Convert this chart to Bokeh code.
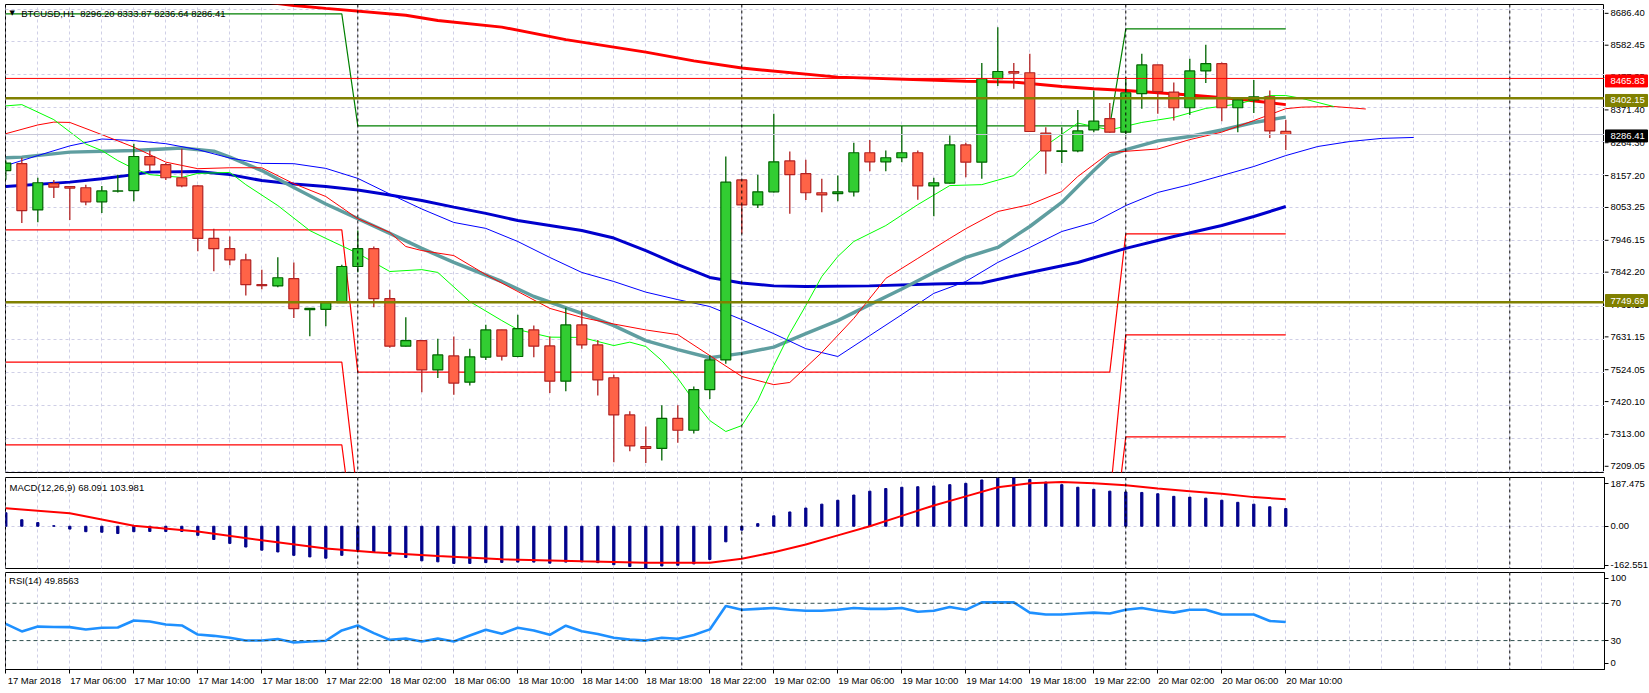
from bokeh.plotting import figure
from bokeh.models import (Range1d, FixedTicker, CustomJSTickFormatter,
                          Span, Label, LinearAxis, ColumnDataSource)
from bokeh.layouts import column, row
from bokeh.embed import file_html
from bokeh.resources import INLINE
from bokeh.core.properties import value

FONT = "Liberation Sans"
FS = "9.5px"
GRID = "#CFCFE6"

# ---------------- data ----------------
symbol_title = "BTCUSD,H1\u00a0\u00a08296.20 8333.87 8236.64 8286.41"
macd_title = "MACD(12,26,9) 68.091 103.981"
rsi_title = "RSI(14) 49.8563"

opens = [8171, 8193, 8045, 8129, 8120, 8116, 8071, 8105, 8107, 8216,
         8190, 8148, 8122, 7954, 7921, 7885, 7806, 7802, 7825, 7726,
         7727, 7748, 7864, 7921, 7761, 7609, 7627, 7533, 7578, 7494,
         7574, 7661, 7576, 7661, 7610, 7497, 7677, 7613, 7508, 7389,
         7288, 7282, 7378, 7340, 7470, 7565, 8141, 8061, 8103, 8202,
         8161, 8100, 8097, 8103, 8228, 8199, 8212, 8228, 8122, 8131,
         8253, 8198, 8465, 8488, 8484, 8291, 8232, 8234, 8301, 8337,
         8294, 8417, 8509, 8422, 8372, 8490, 8513, 8372, 8397, 8407, 8296.20]
highs = [8203, 8212, 8148, 8141, 8122, 8126, 8122, 8158, 8257, 8235,
         8195, 8241, 8124, 7985, 7960, 7905, 7854, 7894, 7877, 7731,
         7753, 7870, 7979, 7928, 7790, 7702, 7629, 7633, 7640, 7601,
         7678, 7662, 7710, 7675, 7640, 7732, 7726, 7629, 7518, 7401,
         7352, 7420, 7420, 7480, 7580, 8216, 8142, 8158, 8353, 8232,
         8206, 8145, 8155, 8260, 8269, 8235, 8314, 8235, 8148, 8283,
         8260, 8515, 8630, 8515, 8545, 8310, 8310, 8365, 8427, 8387,
         8470, 8545, 8510, 8453, 8529, 8574, 8517, 8406, 8461, 8427, 8333.87]
lows = [8142, 8003, 8006, 8083, 8013, 8060, 8035, 8101, 8073, 8169,
        8141, 8118, 7913, 7849, 7868, 7771, 7791, 7798, 7699, 7641,
        7673, 7747, 7846, 7734, 7604, 7608, 7462, 7507, 7454, 7483,
        7565, 7563, 7574, 7574, 7459, 7465, 7601, 7451, 7238, 7273,
        7235, 7243, 7300, 7330, 7440, 7553, 7969, 8051, 8101, 8033,
        8077, 8038, 8073, 8088, 8169, 8169, 8198, 8078, 8025, 8130,
        8150, 8145, 8442, 8433, 8295, 8161, 8195, 8230, 8294, 8292,
        8283, 8369, 8353, 8331, 8349, 8451, 8329, 8294, 8355, 8275, 8236.64]
closes = [8195, 8043, 8132, 8118, 8115, 8071, 8106, 8106, 8216, 8189,
          8148, 8122, 7954, 7921, 7885, 7806, 7803, 7828, 7729, 7730,
          7748, 7864, 7921, 7761, 7609, 7627, 7533, 7581, 7491, 7575,
          7661, 7577, 7665, 7609, 7497, 7677, 7613, 7501, 7389, 7290,
          7282, 7378, 7340, 7470, 7565, 8134, 8061, 8103, 8199, 8158,
          8100, 8093, 8103, 8228, 8199, 8212, 8228, 8122, 8132, 8253,
          8198, 8465, 8488, 8483, 8296, 8234, 8234.2, 8298, 8329, 8294,
          8420, 8509, 8424, 8372, 8490, 8513, 8372, 8397, 8407, 8298, 8286.41]

# moving averages (bar index, price)
ma_red_bars = [0, 10, 16, 18, 20, 25, 27, 31, 35, 40, 43, 46, 52, 60, 63, 66, 68, 70, 74, 77, 80]
ma_red_vals = [8765, 8735, 8712, 8699, 8690, 8668, 8651, 8630, 8590, 8550, 8522, 8499, 8470,
               8457, 8454, 8440, 8433, 8427, 8413, 8400, 8382]
ma_blue_bars = [0, 4, 6, 8, 9, 12, 14, 16, 18, 20, 22, 24, 26, 28, 30, 32, 34, 36, 38, 40,
                42, 44, 46, 48, 50, 54, 58, 61, 64, 67, 70, 73, 76, 78, 80]
ma_blue_vals = [8120, 8134, 8145, 8158, 8166, 8168, 8158, 8139, 8128, 8120, 8109, 8093, 8075,
                8054, 8034, 8011, 7995, 7979, 7955, 7915, 7870, 7829, 7811, 7802, 7800, 7802,
                7808, 7811, 7845, 7877, 7922, 7960, 7995, 8024, 8056]
ma_grey_bars = [0, 1, 4, 8, 11, 13, 14, 16, 18, 20, 22, 24, 26, 28, 31, 33, 36, 38, 40, 42,
                44, 46, 48, 50, 52, 54, 56, 58, 60, 62, 64, 66, 68, 69, 70, 72, 74, 76, 78, 80]
ma_grey_vals = [8212, 8214, 8230, 8235, 8243, 8233, 8214, 8171, 8117, 8064, 8017, 7970, 7922,
                7877, 7816, 7768, 7714, 7675, 7627, 7598, 7572, 7586, 7606, 7649, 7691, 7742,
                7792, 7845, 7893, 7925, 7992, 8069, 8171, 8219, 8238, 8266, 8280, 8301, 8325, 8342]
jaw_bars = [0, 2, 4, 6, 8, 10, 12, 14, 16, 18, 20, 22, 24, 26, 28, 30, 32, 34, 36, 38, 40,
            42, 44, 46, 48, 50, 52, 54, 56, 58, 60, 62, 64, 66, 68, 70, 72, 74, 76, 78, 80,
            82, 84, 86, 88]
jaw_vals = [8187, 8219, 8250, 8272, 8267, 8257, 8238, 8211, 8194, 8193, 8178, 8146, 8096,
            8048, 8005, 7986, 7944, 7893, 7845, 7816, 7782, 7758, 7736, 7694, 7649, 7601,
            7576, 7643, 7710, 7778, 7816, 7877, 7925, 7976, 8005, 8059, 8101, 8126, 8155,
            8184, 8219, 8248, 8264, 8274, 8277]
teeth_bars = [0, 2, 3, 4, 6, 8, 10, 12, 14, 16, 18, 20, 22, 24, 25, 26, 28, 30, 32, 34, 36,
              38, 40, 42, 44, 46, 48, 49, 51, 53, 55, 57, 59, 60, 62, 64, 66, 67, 69, 72, 74,
              76, 78, 80, 81, 83, 85]
teeth_vals = [8289, 8317, 8326, 8325, 8286, 8246, 8198, 8177, 8180, 8180, 8129, 8088, 8017,
              7973, 7928, 7915, 7899, 7838, 7784, 7730, 7701, 7680, 7661, 7646, 7579, 7512,
              7486, 7493, 7589, 7698, 7826, 7890, 7954, 7985, 8040, 8062, 8104, 8152, 8229,
              8240, 8270, 8294, 8331, 8369, 8374, 8376, 8368]
lips_bars = [0, 1, 3, 5, 6, 7, 8, 9, 11, 12, 14, 15, 17, 19, 20, 22, 24, 26, 27, 29, 31, 32,
             34, 36, 38, 39, 40, 41, 42, 43, 44, 45, 46, 47, 48, 49, 50, 51, 52, 53, 55, 57,
             59, 61, 63, 65, 67, 69, 71, 73, 75, 77, 79, 80, 81, 83]
lips_vals = [8378, 8382, 8334, 8256, 8235, 8203, 8177, 8158, 8149, 8162, 8165, 8126, 8059,
             7979, 7954, 7906, 7848, 7854, 7845, 7752, 7691, 7662, 7638, 7637, 7611, 7622,
             7608, 7563, 7506, 7435, 7371, 7336, 7355, 7435, 7547, 7650, 7739, 7832, 7896,
             7944, 7995, 8062, 8123, 8126, 8155, 8251, 8323, 8301, 8325, 8341, 8370, 8384,
             8411, 8411, 8402, 8376]

# daily step levels: first bar of each segment, then levels
step_start_bars = [0, 22, 70]
step_end_bar = 80
prev_high_levels = [8672.6, 8314.2, 8624.6]
pivot_s1_levels = [7981.4, 7525.8, 7968.6]
pivot_s2_levels = [7557.8, 7120.0, 7645.1]
pivot_s3_levels = [7293.4, 6900.0, 7318.7]

hline_red = 8465.83
hline_olive_hi = 8402.15
hline_olive_lo = 7749.69
bid_price = 8286.41

macd_hist = [52, 25, 14, 2, -11, -21, -23, -28, -21, -20, -20, -20, -35, -51, -66, -80, -92,
             -99, -112, -118, -123, -112, -95, -101, -114, -120, -133, -137, -143, -143, -140,
             -139, -138, -138, -142, -138, -137, -140, -148, -155, -162.551, -153, -150, -145,
             -128, -60, -15, 10, 40, 55, 70, 85, 100, 120, 135, 145, 150, 152, 155, 160, 165,
             178, 185, 187.475, 180, 170, 160, 150, 142, 135, 132, 130, 125, 115, 112, 108,
             100, 92, 85, 75, 68.091]
signal_bars = [0, 4, 8, 12, 16, 20, 23, 27, 31, 36, 40, 44, 46, 48, 50, 52, 54, 56, 58, 60,
               62, 64, 66, 68, 70, 72, 74, 76, 78, 80]
signal_vals = [69, 50, 2, -20, -54, -86, -100, -114, -127, -135, -140, -140, -125, -100, -70,
               -35, 0, 40, 80, 115, 150, 165, 170, 165, 158, 145, 135, 125, 112, 103.981]

rsi_vals = [48, 39.8, 45, 44.5, 44.4, 41.9, 43.7, 44, 51.6, 50.5, 47.3, 46.2, 36.5, 35.1, 33,
            30.1, 30.1, 31.6, 28, 29.1, 29.8, 40.9, 46.2, 38, 30.8, 32.2, 29.1, 32.2, 29.1,
            35.5, 41.6, 37.3, 43.7, 40.9, 36.2, 46, 40, 37, 33, 31, 30, 33, 32, 36, 42, 67,
            63, 64, 65, 63, 62, 62, 63, 65, 64, 64, 65, 61, 62, 66, 63, 71, 71, 71, 60, 58,
            58, 59, 60, 59, 63, 65, 62, 60, 63, 63, 58, 58, 58, 51, 49.8563]
rsi_levels = [70, 30]

price_ticks = [8686.40, 8582.45, 8477.35, 8371.40, 8264.30, 8157.20, 8053.25, 7946.15,
               7842.20, 7735.10, 7631.15, 7524.05, 7420.10, 7313.00, 7209.05]
price_tags = [hline_red, hline_olive_hi, bid_price, hline_olive_lo]
price_tag_colors = ["#FF0000", "#808000", "#000000", "#808000"]
macd_tick_labels = ["187.475", "0.00", "-162.551"]
rsi_tick_labels = ["100", "70", "30", "0"]

time_tick_bars = list(range(0, 81, 4))
time_labels = ["17 Mar 2018", "17 Mar 06:00", "17 Mar 10:00", "17 Mar 14:00", "17 Mar 18:00",
               "17 Mar 22:00", "18 Mar 02:00", "18 Mar 06:00", "18 Mar 10:00", "18 Mar 14:00",
               "18 Mar 18:00", "18 Mar 22:00", "19 Mar 02:00", "19 Mar 06:00", "19 Mar 10:00",
               "19 Mar 14:00", "19 Mar 18:00", "19 Mar 22:00", "20 Mar 02:00", "20 Mar 06:00",
               "20 Mar 10:00"]
day_sep_bars = [22, 46, 70, 94]

# ---------------- layout ----------------
n = len(opens)
bars = list(range(n))
xr = Range1d(-0.02, 99.92)
LABEL_SHIFT = 1.78
PX = 3.2  # price units per pixel in the main panel


def style_frame(p):
    p.outline_line_color = "black"
    p.outline_line_width = 1
    p.background_fill_color = "white"
    p.border_fill_color = "white"
    p.xgrid.ticker = FixedTicker(ticks=list(range(0, 100, 2)))
    p.xgrid.grid_line_color = GRID
    p.xgrid.grid_line_dash = "3 3"
    p.ygrid.grid_line_color = GRID
    p.ygrid.grid_line_dash = "3 3"
    for b in day_sep_bars:
        p.add_layout(Span(location=b, dimension="height", line_color="black",
                          line_dash="3 3", line_width=1))


def style_yaxis(ya):
    ya.major_tick_out = 4
    ya.major_tick_in = 0
    ya.minor_tick_out = 0
    ya.minor_tick_in = 0
    ya.axis_line_color = "black"
    ya.major_tick_line_color = "black"
    ya.major_label_text_font = FONT
    ya.major_label_text_font_size = FS
    ya.major_label_text_color = "black"
    ya.major_label_standoff = 2


def steps(levels):
    xs, ys = [], []
    ends = step_start_bars[1:] + [step_end_bar + 1]
    for s, e, lv in zip(step_start_bars, ends, levels):
        for b in range(s, e):
            xs.append(b)
            ys.append(lv)
    return xs, ys


# ---- main price panel (frame only; its price scale is drawn in p1a) ----
y_top, y_bot = 8702.4, 7204.8
p1 = figure(frame_width=1599, frame_height=468, x_range=xr, y_range=Range1d(y_bot, y_top),
            min_border_left=5, min_border_right=0, min_border_top=4, min_border_bottom=5,
            x_axis_location=None, y_axis_location=None,
            output_backend="svg", toolbar_location=None)
style_frame(p1)
p1.ygrid.ticker = FixedTicker(ticks=price_ticks)

p1.add_layout(Span(location=bid_price, dimension="width", line_color="#C8C8D8", line_width=1))
p1.add_layout(Span(location=hline_red, dimension="width", line_color="#FF0000", line_width=1))
p1.add_layout(Span(location=hline_olive_hi, dimension="width", line_color="#808000", line_width=2.5))
p1.add_layout(Span(location=hline_olive_lo, dimension="width", line_color="#808000", line_width=2.5))

for lv in (pivot_s1_levels, pivot_s2_levels, pivot_s3_levels):
    sx, sy = steps(lv)
    p1.line(sx, sy, line_color="#FF0000", line_width=1.2)
sx, sy = steps(prev_high_levels)
p1.line(sx, sy, line_color="#008000", line_width=1.2)

p1.line(ma_red_bars, ma_red_vals, line_color="#FF0000", line_width=3)
p1.line(ma_blue_bars, ma_blue_vals, line_color="#0000CD", line_width=3)
p1.line(ma_grey_bars, ma_grey_vals, line_color="#5F9EA0", line_width=3.5)
p1.line(jaw_bars, jaw_vals, line_color="#0000FF", line_width=1)
p1.line(teeth_bars, teeth_vals, line_color="#FF0000", line_width=1)
p1.line(lips_bars, lips_vals, line_color="#00FF00", line_width=1)

up = [c >= o for o, c in zip(opens, closes)]
src = ColumnDataSource(dict(
    x=bars, o=opens, h=highs, l=lows, c=closes,
    top=[max(o, c) for o, c in zip(opens, closes)],
    bot=[min(o, c) for o, c in zip(opens, closes)],
    wick=["#006400" if u else "#B22222" for u in up],
    fill=["#32CD32" if u else "#FF6347" for u in up],
))
p1.segment(x0="x", y0="l", x1="x", y1="h", line_color="wick", line_width=1.3, source=src)
p1.vbar(x="x", top="top", bottom="bot", width=0.62, fill_color="fill", line_color="wick",
        line_width=1.2, source=src)

p1.add_layout(Label(x=0.4, y=8674.0, text="\u25bc", text_font="DejaVu Sans",
                    text_font_size="7px", text_color="black", text_align="center",
                    text_baseline="middle"))
p1.add_layout(Label(x=0.96, y=8673.0, text=symbol_title, text_font=FONT,
                    text_font_size=FS, text_color="black", text_baseline="middle"))

# ---- price scale strip to the right of the main panel ----
strip_top = y_top + 4 * PX
strip_bot = strip_top - 477 * PX
p1a = figure(width=45, height=477, x_range=Range1d(0, 45),
             y_range=Range1d(strip_bot, strip_top),
             min_border=0, x_axis_location=None, y_axis_location=None,
             output_backend="svg", toolbar_location=None)
p1a.outline_line_color = None
p1a.background_fill_color = "white"
p1a.border_fill_color = "white"
p1a.xgrid.grid_line_color = None
p1a.ygrid.grid_line_color = None
p1a.segment(x0=0, x1=4, y0=price_ticks, y1=price_ticks, line_color="black", line_width=1)
p1a.text(x=6, y=price_ticks, text=[f"{t:.2f}" for t in price_ticks], text_font=value(FONT),
         text_font_size=FS, text_color="black", text_baseline="middle", text_align="left")
p1a.rect(x=22, y=price_tags, width=42, height=12, height_units="screen",
         fill_color=price_tag_colors, line_color=price_tag_colors)
p1a.text(x=6, y=price_tags, text=[f"{t:.2f}" for t in price_tags], text_font=value(FONT),
         text_font_size=FS, text_color="white", text_baseline="middle", text_align="left")

# ---- MACD panel ----
p2 = figure(frame_width=1599, frame_height=91, x_range=xr,
            y_range=Range1d(-162.551, 187.475),
            min_border_left=5, min_border_right=0, min_border_top=0, min_border_bottom=3,
            x_axis_location=None, y_axis_location="right",
            output_backend="svg", toolbar_location=None)
style_frame(p2)
style_yaxis(p2.yaxis[0])
p2.yaxis[0].ticker = FixedTicker(ticks=[164, 0, -151])
p2.yaxis[0].formatter = CustomJSTickFormatter(
    args=dict(labels=macd_tick_labels),
    code="if (tick > 1) { return labels[0]; } if (tick < -1) { return labels[2]; } return labels[1];")
p2.ygrid.ticker = FixedTicker(ticks=[0])
p2.vbar(x=bars, top=macd_hist, bottom=0, width=0.14, color="#00008B")
p2.line(signal_bars, signal_vals, line_color="#FF0000", line_width=2)
p2.add_layout(Label(x=0.23, y=150, text=macd_title, text_font=FONT, text_font_size=FS,
                    text_color="black", text_baseline="middle"))

# ---- RSI panel ----
p3 = figure(frame_width=1599, frame_height=97, x_range=xr, y_range=Range1d(-1, 103),
            min_border_left=5, min_border_right=0, min_border_top=1, min_border_bottom=24,
            x_axis_location="below", y_axis_location="right",
            output_backend="svg", toolbar_location=None)
style_frame(p3)
style_yaxis(p3.yaxis[0])
p3.yaxis[0].ticker = FixedTicker(ticks=[96.6, 70, 30, 5.5])
p3.yaxis[0].formatter = CustomJSTickFormatter(
    args=dict(labels=rsi_tick_labels),
    code="if (tick > 90) { return labels[0]; } if (tick > 50) { return labels[1]; } if (tick > 20) { return labels[2]; } return labels[3];")
p3.ygrid.grid_line_color = None
for lv in rsi_levels:
    p3.add_layout(Span(location=lv, dimension="width", line_color="#2F4F4F",
                       line_dash="4 3", line_width=1))
p3.line(bars, rsi_vals, line_color="#1E90FF", line_width=2.6)
p3.add_layout(Label(x=0.2, y=94, text=rsi_title, text_font=FONT, text_font_size=FS,
                    text_color="black", text_baseline="middle"))

xa = p3.xaxis[0]
xa.ticker = FixedTicker(ticks=time_tick_bars)
xa.formatter = CustomJSTickFormatter(code="return '';")
xa.major_tick_out = 4
xa.major_tick_in = 0
xa.minor_tick_out = 0
xa.minor_tick_in = 0
xa.major_label_text_font_size = "0px"
xa.major_label_standoff = 0
xa.axis_line_color = "black"

xb = LinearAxis(
    ticker=FixedTicker(ticks=[b + LABEL_SHIFT for b in time_tick_bars]),
    formatter=CustomJSTickFormatter(
        args=dict(labels=time_labels, shift=LABEL_SHIFT),
        code="const i = Math.round((tick - shift) / 4); return (i >= 0 && i < labels.length) ? labels[i] : '';"),
    major_tick_out=0, major_tick_in=0, minor_tick_out=0, minor_tick_in=0,
    axis_line_color=None, major_label_standoff=1,
    major_label_text_font=FONT, major_label_text_font_size=FS,
    major_label_text_color="black")
p3.add_layout(xb, "below")

layout = column(row(p1, p1a, spacing=0), p2, p3, spacing=0)
open("out.html", "w").write(file_html(layout, INLINE))
